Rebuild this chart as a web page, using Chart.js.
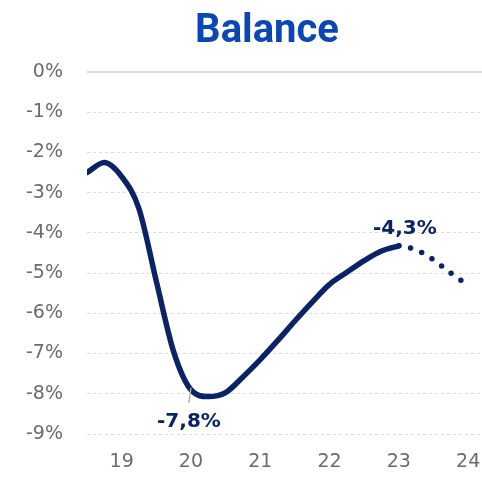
<!DOCTYPE html>
<html>
<head>
<meta charset="utf-8">
<script src="https://cdn.jsdelivr.net/npm/chart.js@4"></script>
<style>
html,body{margin:0;padding:0;background:#fff;}
#wrap{width:482px;height:477px;position:relative;}
</style>
</head>
<body>
<div id="wrap"><canvas id="c" width="482" height="477"></canvas></div>
<script>
// ---- data ----
const titleText = 'Balance';
const actualX = [18.5, 18.75, 19, 19.25, 19.5, 19.75, 20, 20.25, 20.5, 20.75, 21, 21.25, 21.5, 21.75, 22, 22.25, 22.5, 22.75, 23];
const actualY = [-2.5, -2.25, -2.6, -3.4, -5.2, -6.95, -7.9, -8.07, -7.97, -7.58, -7.15, -6.68, -6.19, -5.72, -5.28, -4.98, -4.69, -4.45, -4.32];
const forecastX = [23, 23.25, 23.5, 23.75, 23.93];
const forecastY = [-4.32, -4.42, -4.67, -5.0, -5.22];
const xTickValues = [19, 20, 21, 22, 23, 24];
const yTickValues = [0, -1, -2, -3, -4, -5, -6, -7, -8, -9];
const annX = [20, 23];
const annY = [-7.8, -4.3];
const annText = ['-7,8%', '-4,3%'];

const NAVY = '#0b2265';
const BLUE = '#0a47b5';
const GRID = '#dcdcdc';
const TICK = '#6b6b6b';

const toPts = (xs, ys) => xs.map((x, i) => ({x: x, y: ys[i]}));

const titlePlugin = {
  id: 'titleText',
  afterDraw(chart) {
    const ctx = chart.ctx;
    ctx.save();
    ctx.font = 'bold 40px Roboto, "Noto Sans", sans-serif';
    ctx.fillStyle = BLUE;
    ctx.textAlign = 'center';
    ctx.textBaseline = 'alphabetic';
    ctx.fillText(titleText, 267, 42);
    ctx.restore();
  }
};

const annPlugin = {
  id: 'annotations',
  afterDatasetsDraw(chart) {
    const ctx = chart.ctx;
    const xs = chart.scales.x, ys = chart.scales.y;
    ctx.save();
    ctx.font = 'bold 20px "DejaVu Sans", sans-serif';
    ctx.fillStyle = NAVY;
    ctx.textAlign = 'center';
    ctx.textBaseline = 'middle';
    // first annotation (below, with leader line)
    let px = xs.getPixelForValue(annX[0]);
    let py = ys.getPixelForValue(annY[0]);
    ctx.strokeStyle = '#b0b0b0';
    ctx.lineWidth = 1.5;
    ctx.beginPath();
    ctx.moveTo(px, py + 2);
    ctx.lineTo(px - 2, py + 17);
    ctx.stroke();
    ctx.fillText(annText[0], px - 2, py + 36);
    // second annotation (above)
    px = xs.getPixelForValue(annX[1]);
    py = ys.getPixelForValue(annY[1]);
    ctx.fillText(annText[1], px + 6, py - 16);
    ctx.restore();
  }
};

new Chart(document.getElementById('c'), {
  type: 'line',
  data: {
    datasets: [
      {
        data: toPts(actualX, actualY),
        borderColor: NAVY,
        borderWidth: 5.5,
        cubicInterpolationMode: 'monotone',
        pointRadius: 0,
        borderCapStyle: 'round',
        borderJoinStyle: 'round',
        fill: false
      },
      {
        data: toPts(forecastX, forecastY),
        borderColor: NAVY,
        borderWidth: 5.5,
        borderDash: [0, 12],
        borderCapStyle: 'round',
        cubicInterpolationMode: 'monotone',
        pointRadius: 0,
        fill: false
      }
    ]
  },
  options: {
    responsive: false,
    animation: false,
    events: [],
    layout: { padding: { top: 72, left: 0, right: 0, bottom: 0 } },
    plugins: {
      legend: { display: false },
      title: { display: false },
      tooltip: { enabled: false }
    },
    scales: {
      x: {
        type: 'linear',
        min: 18.5,
        max: 24.2,
        afterBuildTicks: (axis) => { axis.ticks = xTickValues.map(v => ({value: v})); },
        afterFit: (axis) => { axis.height = 43; axis.paddingLeft = 0; axis.paddingRight = 0; },
        grid: { display: false, drawTicks: false },
        border: { display: false },
        ticks: {
          padding: 17,
          color: TICK,
          font: { family: '"DejaVu Sans", sans-serif', size: 19 },
          callback: (v) => String(v),
          maxRotation: 0,
          autoSkip: false
        }
      },
      y: {
        type: 'linear',
        min: -9,
        max: 0,
        afterBuildTicks: (axis) => { axis.ticks = yTickValues.map(v => ({value: v})); },
        afterFit: (axis) => { axis.width = 87; axis.paddingTop = 0; axis.paddingBottom = 0; },
        grid: {
          drawTicks: false,
          color: GRID,
          lineWidth: (ctx) => (ctx.tick && ctx.tick.value === 0) ? 2 : 1
        },
        border: {
          display: false,
          dash: (ctx) => (ctx.tick && ctx.tick.value === 0) ? [] : [3, 3]
        },
        ticks: {
          padding: 24,
          color: TICK,
          font: { family: '"DejaVu Sans", sans-serif', size: 19 },
          callback: (v) => v + '%'
        }
      }
    }
  },
  plugins: [titlePlugin, annPlugin]
});
</script>
</body>
</html>
